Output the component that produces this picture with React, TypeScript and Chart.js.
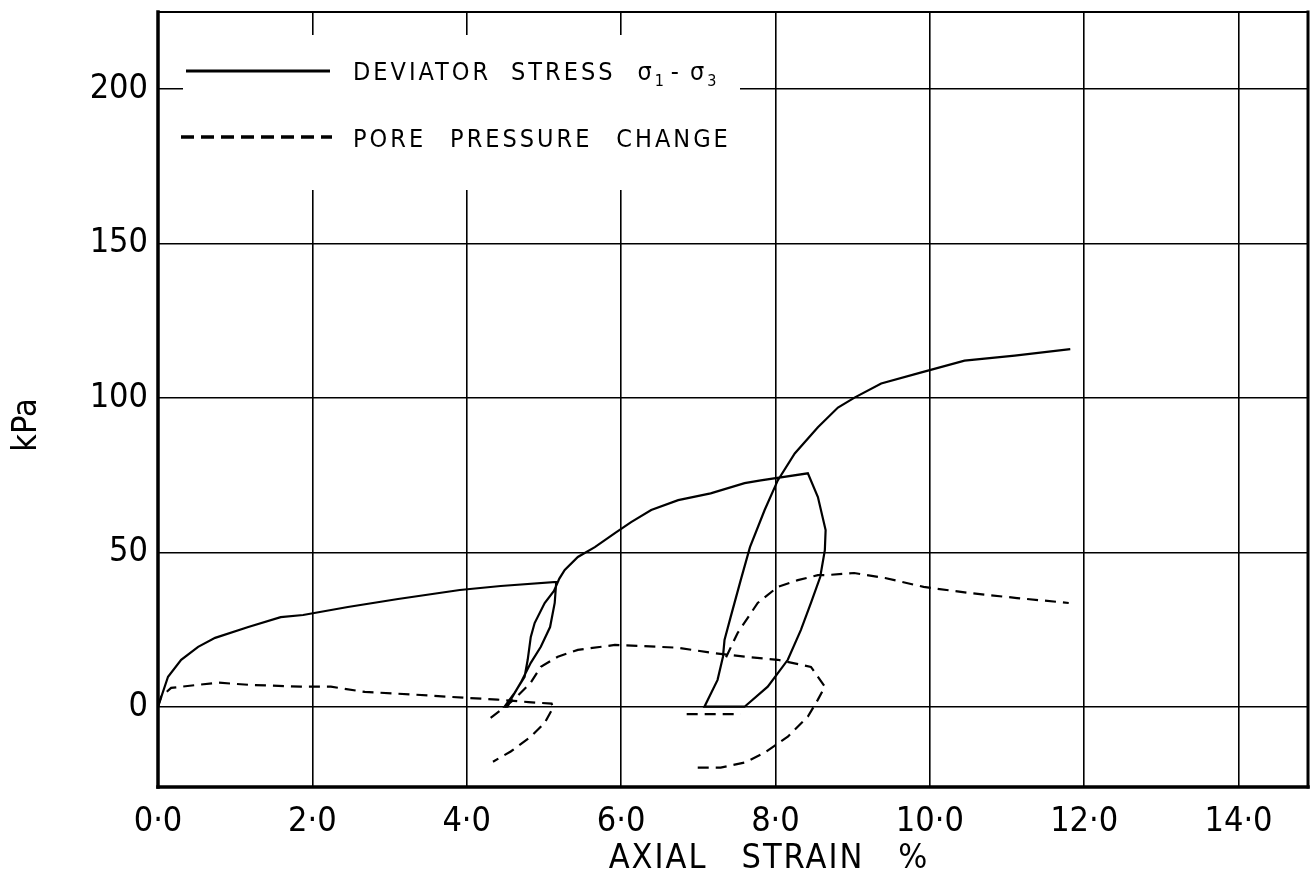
import React, { useEffect, useRef } from 'react';
import { Chart, registerables } from 'chart.js';

Chart.register(...registerables);

// ---- Data ----
const xTickValues = [0, 2, 4, 6, 8, 10, 12, 14];
const xTickLabels = ['0·0', '2·0', '4·0', '6·0', '8·0', '10·0', '12·0', '14·0'];
const yTickValues = [0, 50, 100, 150, 200];
const yTickLabels = ['0', '50', '100', '150', '200'];

const xAxisTitle = 'AXIAL STRAIN %';
const yAxisTitle = 'kPa';
const legendDeviator = 'DEVIATOR STRESS';
const legendPore = 'PORE PRESSURE CHANGE';

// Deviator stress σ1 - σ3 (kPa) vs axial strain (%), in drawing order
const devStrain = [
  0, 0.13, 0.3, 0.52, 0.74, 1.17, 1.59, 1.88, 2.46, 3.11, 3.91, 4.44, 5.16,
  5.14, 5.08, 4.96, 4.83, 4.7, 4.57, 4.53,
  4.49, 4.62, 4.75, 4.79, 4.83, 4.88, 5.01, 5.13, 5.2, 5.27, 5.44, 5.66, 5.92, 6.13, 6.39, 6.74, 7.16, 7.6, 7.81, 8.42,
  8.55, 8.65, 8.64, 8.58, 8.46, 8.33, 8.16, 7.9, 7.6,
  7.08, 7.25, 7.32, 7.34, 7.42, 7.55, 7.67, 7.86, 8.03, 8.25, 8.55, 8.81, 9.03, 9.37, 9.88, 10.45, 11.1, 11.82,
];
const devStress = [
  0, 9.7, 15.2, 19.4, 22.3, 25.8, 29, 29.7, 32.3, 34.9, 37.8, 39.1, 40.4,
  33.6, 25.8, 19.4, 14.2, 7.8, 2.3, 0,
  0, 4.5, 9.7, 15.2, 22.6, 27.1, 33.6, 37.5, 41.5, 44.3, 48.5, 51.7, 56.2, 59.8, 63.7, 66.9, 69.1, 72.4, 73.3, 75.6,
  67.9, 57.2, 50.7, 42, 33.6, 24.9, 15.2, 6.5, 0,
  0, 8.7, 16.2, 21.6, 29.1, 41, 51.7, 63.7, 73.3, 82, 90.5, 96.9, 100.2, 104.7, 108.2, 112.1, 113.7, 115.8,
];

// Pore pressure change (kPa) vs axial strain (%); null = break in the line
const poreStrain = [
  0, 0.04, 0.17, 0.52, 0.78, 1.17, 1.85, 2.24, 2.68, 3.33, 3.98, 4.4, 4.8, 5.1,
  5.12, 5.01, 4.83, 4.57, 4.34, null,
  4.31, 4.5, 4.62, 4.83, 4.96, 5.18, 5.44, 5.92, 6.3, 6.74, 7.16, 7.6, 8.03, 8.46, 8.64, 8.55,
  8.42, 8.16, 7.86, 7.6, 7.29, 6.99, null,
  6.85, 7.55, null,
  7.36, 7.51, 7.77, 8.03, 8.29, 8.55, 8.65, 9.02, 9.42, 9.92, 10.52, 11.13, 11.8,
];
const porePressure = [
  0, 3.2, 6.1, 7.1, 7.8, 7.1, 6.5, 6.5, 4.8, 3.9, 2.9, 2.3, 1.5, 1,
  -0.3, -5.2, -9.7, -14.5, -17.8, null,
  -3.6, 0, 2.5, 7.8, 12.9, 16.2, 18.4, 20, 19.6, 19.1, 17.5, 16.2, 15.2, 12.9, 6.5, 2.3,
  -3.2, -9.7, -14.9, -18.1, -19.7, -19.7, null,
  -2.4, -2.4, null,
  16, 23.9, 33.6, 38.8, 41, 42.6, 42.6, 43.3, 41.7, 38.8, 36.8, 35.2, 33.6,
];

const FONT = '"DejaVu Sans Condensed", "Liberation Sans Narrow", "DejaVu Sans", sans-serif';

function toPoints(xs: (number | null)[], ys: (number | null)[]) {
  let prev = 0;
  return xs.map((x, i) => {
    const y = ys[i];
    if (x === null || y === null) return { x: prev, y: null };
    prev = x;
    return { x, y };
  });
}

function drawWords(ctx: CanvasRenderingContext2D, text: string, x: number, y: number, gap: number) {
  let cx = x;
  text.split(' ').forEach((w) => {
    ctx.fillText(w, cx, y);
    cx += ctx.measureText(w).width + gap;
  });
  return cx;
}

function wordsWidth(ctx: CanvasRenderingContext2D, text: string, gap: number) {
  const ws = text.split(' ');
  return ws.reduce((s, w) => s + ctx.measureText(w).width, 0) + gap * (ws.length - 1);
}

const framePlugin = {
  id: 'frame',
  afterDraw(chart: any) {
    const { ctx, chartArea: a } = chart;
    ctx.save();
    ctx.strokeStyle = '#000';
    ctx.lineCap = 'square';
    const seg = (x1: number, y1: number, x2: number, y2: number, w: number) => {
      ctx.lineWidth = w;
      ctx.beginPath();
      ctx.moveTo(x1, y1);
      ctx.lineTo(x2, y2);
      ctx.stroke();
    };
    seg(a.left, a.top, a.left, a.bottom, 3.5);
    seg(a.left, a.bottom, a.right, a.bottom, 3.5);
    seg(a.left, a.top, a.right, a.top, 2);
    seg(a.right, a.top, a.right, a.bottom, 3);

    ctx.fillStyle = '#000';
    // x axis title
    ctx.font = `34px ${FONT}`;
    (ctx as any).letterSpacing = '2px';
    ctx.textAlign = 'left';
    ctx.textBaseline = 'middle';
    const gap = 34;
    const w = wordsWidth(ctx, xAxisTitle, gap);
    drawWords(ctx, xAxisTitle, 769 - w / 2, 859, gap);
    (ctx as any).letterSpacing = '0px';
    // y axis title
    ctx.textAlign = 'center';
    ctx.translate(27, 425);
    ctx.rotate(-Math.PI / 2);
    ctx.fillText(yAxisTitle, 0, 0);
    ctx.restore();
  },
};

const legendPlugin = {
  id: 'boxLegend',
  afterDatasetsDraw(chart: any) {
    const { ctx } = chart;
    ctx.save();
    ctx.fillStyle = '#fff';
    ctx.fillRect(183, 35, 557, 155);
    ctx.strokeStyle = '#000';
    ctx.lineWidth = 3;
    ctx.beginPath();
    ctx.moveTo(186, 71);
    ctx.lineTo(330, 71);
    ctx.stroke();
    ctx.setLineDash([13, 7]);
    ctx.lineWidth = 3.5;
    ctx.beginPath();
    ctx.moveTo(181, 137);
    ctx.lineTo(332, 137);
    ctx.stroke();
    ctx.setLineDash([]);

    ctx.fillStyle = '#000';
    ctx.textAlign = 'left';
    ctx.textBaseline = 'alphabetic';
    const big = `25px ${FONT}`;
    const small = `16px ${FONT}`;
    (ctx as any).letterSpacing = '3px';
    ctx.font = big;
    const base1 = 80;
    let x = drawWords(ctx, legendDeviator, 353, base1, 20) + 2;
    ctx.fillText('σ', x, base1);
    x += ctx.measureText('σ').width;
    ctx.font = small;
    ctx.fillText('1', x, base1 + 6);
    x += ctx.measureText('1').width + 4;
    ctx.font = big;
    ctx.fillText('-', x, base1);
    x += ctx.measureText('-').width + 8;
    ctx.fillText('σ', x, base1);
    x += ctx.measureText('σ').width;
    ctx.font = small;
    ctx.fillText('3', x, base1 + 6);

    ctx.font = big;
    drawWords(ctx, legendPore, 353, 147, 24);
    ctx.restore();
  },
};

export default function App() {
  const canvasRef = useRef<HTMLCanvasElement | null>(null);

  useEffect(() => {
    const canvas = canvasRef.current;
    if (!canvas) return;
    const chart = new Chart(canvas, {
      type: 'scatter',
      data: {
        datasets: [
          {
            label: 'Deviator stress',
            data: toPoints(devStrain, devStress) as any,
            showLine: true,
            borderColor: '#000',
            borderWidth: 2.2,
            pointRadius: 0,
            tension: 0,
            spanGaps: false,
          },
          {
            label: 'Pore pressure change',
            data: toPoints(poreStrain, porePressure) as any,
            showLine: true,
            borderColor: '#000',
            borderWidth: 2.2,
            borderDash: [11, 7],
            pointRadius: 0,
            tension: 0,
            spanGaps: false,
          },
        ],
      },
      options: {
        animation: false,
        responsive: false,
        devicePixelRatio: 1,
        layout: { padding: { top: 12, right: 3, left: 0, bottom: 0 } },
        plugins: { legend: { display: false }, tooltip: { enabled: false } },
        scales: {
          x: {
            type: 'linear',
            min: 0,
            max: 14.9,
            afterBuildTicks: (s: any) => {
              s.ticks = xTickValues.map((v) => ({ value: v }));
            },
            afterFit: (s: any) => {
              s.height = 91;
              s.paddingLeft = 0;
              s.paddingRight = 0;
            },
            grid: { color: '#000', lineWidth: 1.6, drawTicks: false },
            border: { display: false },
            ticks: {
              autoSkip: false,
              maxRotation: 0,
              padding: 15,
              color: '#000',
              font: { family: FONT, size: 34 },
              callback: (v: any) => {
                const i = xTickValues.indexOf(Number(v));
                return i >= 0 ? xTickLabels[i] : '';
              },
            },
            title: { display: false },
          },
          y: {
            type: 'linear',
            min: -26,
            max: 225,
            afterBuildTicks: (s: any) => {
              s.ticks = yTickValues.map((v) => ({ value: v }));
            },
            afterFit: (s: any) => {
              s.width = 158;
              s.paddingTop = 0;
              s.paddingBottom = 0;
            },
            grid: { color: '#000', lineWidth: 1.6, drawTicks: false },
            border: { display: false },
            ticks: {
              autoSkip: false,
              padding: 10,
              color: '#000',
              font: { family: FONT, size: 34 },
              callback: (v: any) => {
                const i = yTickValues.indexOf(Number(v));
                return i >= 0 ? yTickLabels[i] : '';
              },
            },
          },
        },
      },
      plugins: [legendPlugin, framePlugin],
    } as any);
    return () => chart.destroy();
  }, []);

  return (
    <div style={{ position: 'absolute', left: 0, top: 0, width: 1311, height: 878, background: '#fff' }}>
      <canvas ref={canvasRef} width={1311} height={878} style={{ width: 1311, height: 878, display: 'block' }} />
    </div>
  );
}
